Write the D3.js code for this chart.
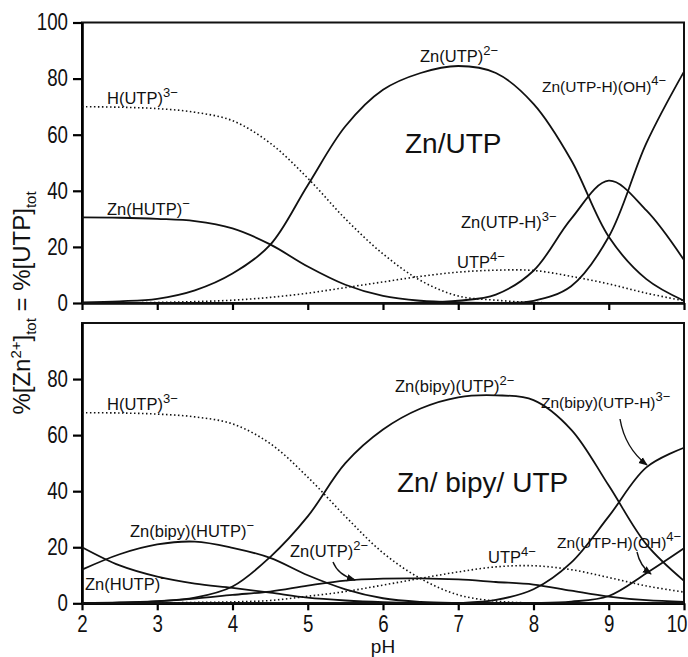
<!DOCTYPE html>
<html>
<head>
<meta charset="utf-8">
<script src="https://cdn.jsdelivr.net/npm/d3@7/dist/d3.min.js"></script>
<style>
  body { margin: 0; background: #fff; }
  svg { display: block; }
  .lbl { font-family: "Liberation Sans", Arial, sans-serif; fill: #111; }
  .tick text { font-family: "Liberation Sans", Arial, sans-serif; font-size: 23px; fill: #111; }
</style>
</head>
<body>
<div id="chart"></div>
<script>
// pH grid used by every series
var pH = [2, 2.5, 3, 3.5, 4, 4.5, 5, 5.5, 6, 6.5, 7, 7.5, 8, 8.5, 9, 9.5, 10];

// upper panel: Zn/UTP (% of total)
var topHUTP      = [70, 69.8, 69.3, 68, 65, 57, 44.5, 30, 17.5, 8, 2.5, 1, 0.2, 0, 0, 0, 0];
var topZnHUTP    = [30.5, 30.4, 30, 29.2, 26.6, 20.9, 13, 6.5, 2.5, 0.8, 0.2, 0, 0, 0, 0, 0, 0];
var topZnUTP     = [0.2, 0.6, 1.5, 4.5, 10.5, 20.7, 42, 63, 76, 82, 84.5, 82, 71, 51, 23.6, 8.5, 0.8];
var topZnUTPH    = [0, 0, 0, 0, 0, 0, 0, 0, 0, 0.1, 0.8, 3, 11.5, 30, 43.6, 33, 15.3];
var topZnUTPHOH  = [0, 0, 0, 0, 0, 0, 0, 0, 0, 0, 0, 0, 0.8, 6, 23.6, 57, 82.5];
var topUTP       = [0, 0.05, 0.2, 0.5, 1, 2, 3.5, 5.5, 7.5, 9.5, 11, 11.7, 11.6, 9.5, 6.8, 3.5, 0.8];

// lower panel: Zn/bipy/UTP
var botHUTP       = [68, 67.9, 67.5, 66.5, 64, 57, 45, 31, 18, 8.8, 3, 0.8, 0.1, 0, 0, 0, 0];
var botZnBipyHUTP = [12, 17.5, 21, 22, 19.8, 16.2, 10, 5, 1.8, 0.5, 0.1, 0, 0, 0, 0, 0, 0];
var botZnHUTP     = [20, 13.5, 9.5, 7, 5.5, 3.8, 2, 1, 0.4, 0.1, 0, 0, 0, 0, 0, 0, 0];
var botZnBipyUTP  = [0, 0.2, 0.7, 2, 6, 16.5, 31, 50, 62, 69.5, 73.5, 74.2, 72.5, 62, 42, 21, 8];
var botZnBipyUTPH = [0, 0, 0, 0, 0, 0, 0, 0, 0, 0, 0.1, 1.2, 5, 14.5, 31, 48.5, 55.5];
var botZnUTP      = [0.1, 0.3, 0.8, 1.7, 3, 4.2, 6.3, 8.1, 8.8, 8.9, 8.5, 7.6, 6.7, 4.5, 2.4, 1.1, 0.5];
var botUTP        = [0, 0.05, 0.1, 0.3, 0.5, 1, 2.5, 4.2, 6.5, 8.9, 11.2, 13, 13.4, 12, 9.2, 6.2, 4];
var botZnUTPHOH   = [0, 0, 0, 0, 0, 0, 0, 0, 0, 0, 0, 0, 0.1, 0.6, 2.6, 10.7, 19.6];

var yTicksTop = [0, 20, 40, 60, 80, 100],
    yTicksBot = [0, 20, 40, 60, 80],
    xTicks = [2, 3, 4, 5, 6, 7, 8, 9, 10];

var width = 688, height = 657;

var svg = d3.select("#chart").append("svg")
    .attr("width", width)
    .attr("height", height);

var x = d3.scaleLinear().domain([2, 10]).range([82, 684]);
var yTop = d3.scaleLinear().domain([0, 100]).range([303, 22.5]);
var yBot = d3.scaleLinear().domain([0, 100]).range([603.3, 323]);

var defs = svg.append("defs");
defs.append("marker")
    .attr("id", "arrow")
    .attr("viewBox", "0 0 10 10")
    .attr("refX", 9).attr("refY", 5)
    .attr("markerWidth", 9).attr("markerHeight", 9)
    .attr("markerUnits", "userSpaceOnUse")
    .attr("orient", "auto")
  .append("path")
    .attr("d", "M0,1L10,5L0,9Z")
    .attr("fill", "#111");

// squeeze tick digits to the narrow face of the original
function narrowDigits(a) {
  a.selectAll(".tick text")
      .attr("textLength", function() { return 10.4 * this.textContent.length; })
      .attr("lengthAdjust", "spacingAndGlyphs");
}

function drawPanel(y, yTicks, showXLabels) {
  var g = svg.append("g");

  // frame
  g.append("rect")
      .attr("x", x(2)).attr("y", y(100))
      .attr("width", x(10) - x(2)).attr("height", y(0) - y(100))
      .attr("fill", "none").attr("stroke", "#111").attr("stroke-width", 2);

  g.append("g")
      .attr("transform", "translate(" + x(2) + ",0)")
      .call(d3.axisLeft(y).tickValues(yTicks).tickSize(9).tickSizeOuter(0).tickPadding(5))
      .call(narrowDigits)
      .call(function(a) { a.select(".domain").attr("stroke-width", 2.6); a.selectAll(".tick line").attr("stroke-width", 2.2); });

  var xa = g.append("g")
      .attr("transform", "translate(0," + y(0) + ")")
      .call(d3.axisBottom(x).tickValues(xTicks).tickSize(7).tickSizeOuter(0).tickPadding(5)
            .tickFormat(showXLabels ? d3.format("d") : function() { return ""; }))
      .call(narrowDigits)
      .call(function(a) { a.select(".domain").attr("stroke-width", 2.6); a.selectAll(".tick line").attr("stroke-width", 2.2); });

  // keep the last label inside the page edge
  xa.selectAll(".tick text").filter(function(d) { return d === 10; })
      .attr("text-anchor", "end").attr("x", 687 - x(10));

  return g;
}

var gTop = drawPanel(yTop, yTicksTop, false);
var gBot = drawPanel(yBot, yTicksBot, true);

function curve(g, y, values, dotted) {
  var line = d3.line()
      .x(function(d, i) { return x(pH[i]); })
      .y(function(d) { return y(d); })
      .curve(d3.curveCatmullRom.alpha(0.5));
  g.append("path")
      .datum(values)
      .attr("d", line)
      .attr("fill", "none")
      .attr("stroke", "#111")
      .attr("stroke-width", dotted ? 1.6 : 1.8)
      .attr("stroke-dasharray", dotted ? "1.5,2.5" : null);
}

curve(gTop, yTop, topHUTP, true);
curve(gTop, yTop, topUTP, true);
curve(gTop, yTop, topZnHUTP, false);
curve(gTop, yTop, topZnUTP, false);
curve(gTop, yTop, topZnUTPH, false);
curve(gTop, yTop, topZnUTPHOH, false);

curve(gBot, yBot, botHUTP, true);
curve(gBot, yBot, botUTP, true);
curve(gBot, yBot, botZnBipyHUTP, false);
curve(gBot, yBot, botZnHUTP, false);
curve(gBot, yBot, botZnBipyUTP, false);
curve(gBot, yBot, botZnBipyUTPH, false);
curve(gBot, yBot, botZnUTP, false);
curve(gBot, yBot, botZnUTPHOH, false);

// species label with a raised charge
function label(px, py, base, sup, size) {
  size = size || 16.5;
  var t = svg.append("text").attr("class", "lbl")
      .attr("x", px).attr("y", py)
      .style("font-size", size + "px")
      .text(base);
  if (sup) {
    t.append("tspan").attr("dy", -7).style("font-size", "13px").text(sup);
  }
}

label(107, 104, "H(UTP)", "3\u2212");
label(107, 215, "Zn(HUTP)", "\u2212");
label(420, 62, "Zn(UTP)", "2\u2212");
label(542, 92, "Zn(UTP-H)(OH)", "4\u2212", 15.5);
label(461, 228, "Zn(UTP-H)", "3\u2212");
label(457, 268, "UTP", "4\u2212");
label(405, 153, "Zn/UTP", null, 28);

label(107, 410, "H(UTP)", "3\u2212");
label(130, 537, "Zn(bipy)(HUTP)", "\u2212");
label(85, 590, "Zn(HUTP)", "\u2212");
label(290, 557, "Zn(UTP)", "2\u2212");
label(488, 563, "UTP", "4\u2212");
label(557, 548, "Zn(UTP-H)(OH)", "4\u2212", 15.5);
label(395, 392, "Zn(bipy)(UTP)", "2\u2212");
label(541, 408, "Zn(bipy)(UTP-H)", "3\u2212", 15.5);
label(397, 492, "Zn/ bipy/ UTP", null, 28);

// pointer arrows
var arrows = [
  [333, 562, 338, 575, 355, 580],
  [637, 552, 640, 566, 651, 574],
  [620, 419, 625, 448, 647, 465]
];
arrows.forEach(function(a) {
  svg.append("path")
      .attr("d", "M" + a[0] + "," + a[1] + "Q" + a[2] + "," + a[3] + " " + a[4] + "," + a[5])
      .attr("fill", "none")
      .attr("stroke", "#111")
      .attr("stroke-width", 1.4)
      .attr("marker-end", "url(#arrow)");
});

// axis titles
svg.append("text").attr("class", "lbl")
    .attr("x", x(6)).attr("y", 653)
    .attr("text-anchor", "middle")
    .style("font-size", "19px")
    .text("pH");

var yl = svg.append("text").attr("class", "lbl")
    .attr("transform", "translate(30,303) rotate(-90)")
    .attr("text-anchor", "middle")
    .style("font-size", "24px");
yl.append("tspan").text("%[Zn");
yl.append("tspan").attr("dy", -9).style("font-size", "15px").text("2+");
yl.append("tspan").attr("dy", 9).text("]");
yl.append("tspan").attr("dy", 6).style("font-size", "15px").text("tot");
yl.append("tspan").attr("dy", -6).text(" = %[UTP]");
yl.append("tspan").attr("dy", 6).style("font-size", "15px").text("tot");
</script>
</body>
</html>
